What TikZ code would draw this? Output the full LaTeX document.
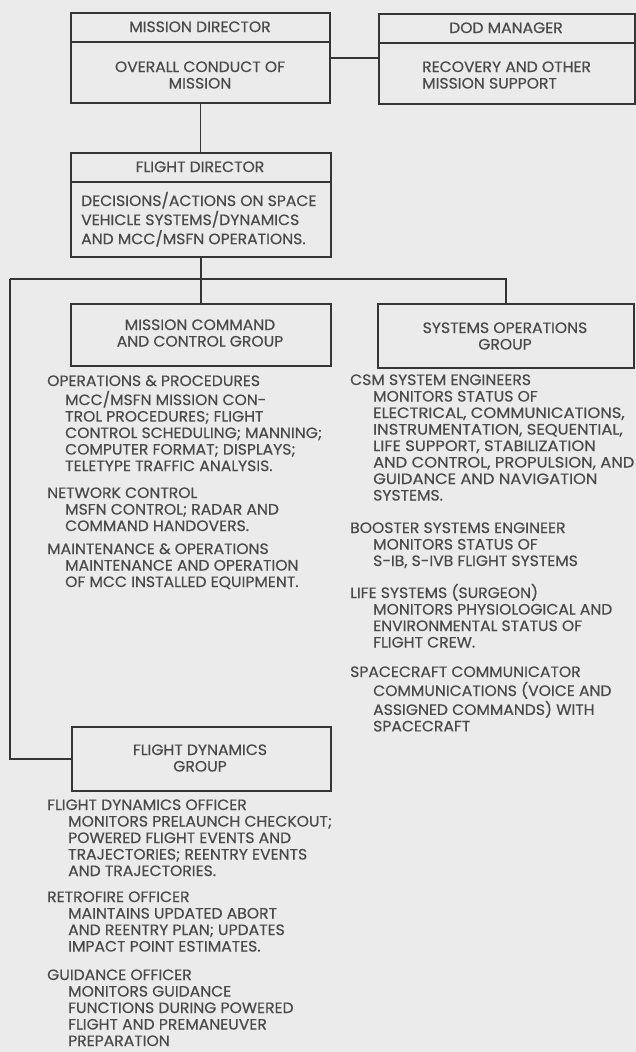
\documentclass[tikz,border=0pt]{standalone}
\usepackage{fontspec}
\setmainfont[FakeStretch=1.04, FakeBold=0.5]{Poppins}
\newfontfamily\widefont[FakeStretch=1.09, FakeBold=0.5]{Poppins}
\definecolor{ink}{HTML}{4A4A4A}
\definecolor{rulecol}{HTML}{353535}
\definecolor{paper}{HTML}{EBEBEB}
\newcommand\chartfont{\fontsize{15}{16.5}\selectfont}
\newcommand\lines[2][l]{\begin{tabular}[t]{@{}#1@{}}#2\end{tabular}}
\newcommand\indL{\hspace*{18pt}}
\newcommand\indR{\hspace*{23pt}}
\newcommand\indF{\hspace*{21pt}}
\tikzset{
  box/.style={draw=rulecol, line width=1.8pt, inner sep=0pt, anchor=north west},
  txt/.style={inner sep=0pt, text=ink, font=\chartfont, anchor=base west},
  ctxt/.style={inner sep=0pt, text=ink, font=\chartfont, anchor=base},
  wire/.style={draw=rulecol, line width=1.8pt},
}
\begin{document}
\begin{tikzpicture}[x=1pt, y=-1pt]
\fill[paper] (0,0) rectangle (636,1052);
\useasboundingbox (0,0) rectangle (636,1052);

% --- Mission director ---
\node[box, minimum width=259pt, minimum height=90pt] (md) at (70,12) {};
\node[ctxt] (mdhead) at (200,32) {MISSION DIRECTOR};
\draw[wire] (md.west |- 0,42) -- (md.east |- 0,42);
\node[ctxt] (mdbody) at (200,72) {\lines[c]{OVERALL CONDUCT OF\\MISSION}};

% --- DOD manager ---
\node[box, minimum width=256pt, minimum height=90pt] (dod) at (378,13) {};
\node[ctxt] (dodhead) at (506,33) {DOD MANAGER};
\draw[wire] (dod.west |- 0,43) -- (dod.east |- 0,43);
\node[txt] (dodbody) at (422,72) {\lines{RECOVERY AND OTHER\\MISSION SUPPORT}};

% --- Flight director ---
\node[box, minimum width=260pt, minimum height=104pt] (fd) at (70,152) {};
\node[ctxt] (fdhead) at (200,172) {FLIGHT DIRECTOR};
\draw[wire] (fd.west |- 0,182) -- (fd.east |- 0,182);
\node[txt] (fdbody) at (81,206) {\lines{DECISIONS/ACTIONS ON SPACE\\VEHICLE SYSTEMS/DYNAMICS\\AND MCC/MSFN OPERATIONS.}};

% --- Groups ---
\node[box, minimum width=260pt, minimum height=62pt] (mcc) at (70,303) {};
\node[ctxt] (mcctext) at (200,330) {\lines[c]{MISSION COMMAND\\AND CONTROL GROUP}};

\node[box, minimum width=256pt, minimum height=64pt] (sys) at (377,303) {};
\node[ctxt] (systext) at (505,333) {\lines[c]{SYSTEMS OPERATIONS\\GROUP}};

\node[box, minimum width=259pt, minimum height=64pt] (fdg) at (71,726) {};
\node[ctxt] (fdgtext) at (200,755) {\lines[c]{FLIGHT DYNAMICS\\GROUP}};

% --- Connectors ---
\coordinate (jl) at (10,279);
\coordinate (jr) at (506,279);
\draw[wire] (md.east) -- (md.east -| dod.west);
\draw[wire] (md.south) -- (md.south |- fd.north);
\draw[wire] (fd.south) -- (fd.south |- mcc.north);
\draw[wire] (jl) -- (jr) -- (jr |- sys.north);
\draw[wire] (jl) -- (jl |- fdg.west) -- (fdg.west);

% --- Mission command and control group duties ---
\node[txt] (opsproc) at (47,386) {\lines{OPERATIONS \& PROCEDURES\\
  \indL MCC/MSFN MISSION CON-\\
  \indL TROL PROCEDURES; FLIGHT\\
  \indL CONTROL SCHEDULING; MANNING;\\
  \indL COMPUTER FORMAT; DISPLAYS;\\
  \indL TELETYPE TRAFFIC ANALYSIS.}};
\node[txt] (netctl) at (47,498) {\lines{NETWORK CONTROL\\
  \indL MSFN CONTROL; RADAR AND\\
  \indL COMMAND HANDOVERS.}};
\node[txt] (maint) at (47,554) {\lines{MAINTENANCE \& OPERATIONS\\
  \indL MAINTENANCE AND OPERATION\\
  \indL OF MCC INSTALLED EQUIPMENT.}};

% --- Systems operations group duties ---
\node[txt] (csm) at (350,385) {\lines{CSM SYSTEM ENGINEERS\\
  \indR MONITORS STATUS OF\\
  \indR {\widefont ELECTRICAL, COMMUNICATIONS,}\\
  \indR {\widefont INSTRUMENTATION, SEQUENTIAL,}\\
  \indR {\widefont LIFE SUPPORT, STABILIZATION}\\
  \indR {\widefont AND CONTROL, PROPULSION, AND}\\
  \indR {\widefont GUIDANCE AND NAVIGATION}\\
  \indR SYSTEMS.}};
\node[txt] (booster) at (350,533) {\lines{BOOSTER SYSTEMS ENGINEER\\
  \indR MONITORS STATUS OF\\
  \indR S-IB, S-IVB FLIGHT SYSTEMS}};
\node[txt] (surgeon) at (350,598) {\lines{LIFE SYSTEMS (SURGEON)\\
  \indR MONITORS PHYSIOLOGICAL AND\\
  \indR ENVIRONMENTAL STATUS OF\\
  \indR FLIGHT CREW.}};
\node[txt] (capcom) at (350,677) {\lines{SPACECRAFT COMMUNICATOR\\
  \indR COMMUNICATIONS (VOICE AND\\
  \indR ASSIGNED COMMANDS) WITH\\
  \indR SPACECRAFT}};

% --- Flight dynamics group duties ---
\node[txt] (fido) at (47,810) {\lines{FLIGHT DYNAMICS OFFICER\\
  \indF MONITORS PRELAUNCH CHECKOUT;\\
  \indF POWERED FLIGHT EVENTS AND\\
  \indF TRAJECTORIES; REENTRY EVENTS\\
  \indF AND TRAJECTORIES.}};
\node[txt] (retro) at (47,902) {\lines{RETROFIRE OFFICER\\
  \indF MAINTAINS UPDATED ABORT\\
  \indF AND REENTRY PLAN; UPDATES\\
  \indF IMPACT POINT ESTIMATES.}};
\node[txt] (guido) at (47,980) {\lines{GUIDANCE OFFICER\\
  \indF MONITORS GUIDANCE\\
  \indF FUNCTIONS DURING POWERED\\
  \indF FLIGHT AND PREMANEUVER\\
  \indF PREPARATION}};
\end{tikzpicture}
\end{document}
